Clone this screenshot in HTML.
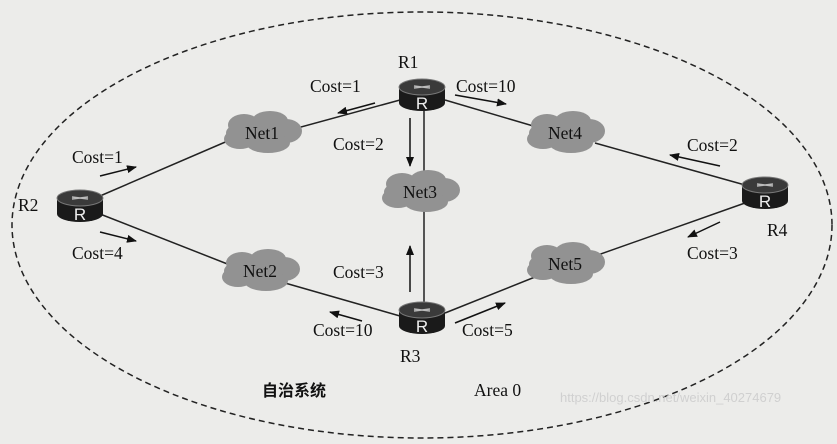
<!DOCTYPE html>
<html><head><meta charset="utf-8"><style>
html,body{margin:0;padding:0;background:#ececea;}
svg{display:block}
text{font-family:"Liberation Serif","Noto Serif CJK SC",serif;font-size:17.5px;fill:#111}
</style></head><body>
<svg width="837" height="444" viewBox="0 0 837 444" xmlns="http://www.w3.org/2000/svg">
<defs>
<marker id="a" markerWidth="10" markerHeight="8" refX="9" refY="4" orient="auto" markerUnits="userSpaceOnUse"><path d="M0,0 L10,4 L0,8 Z" fill="#111"/></marker>
<g id="cloud"><g fill="#929292">
<ellipse cx="0" cy="0" rx="36" ry="14"/><ellipse cx="-18" cy="-8" rx="16" ry="11"/><ellipse cx="8" cy="-12" rx="18" ry="10"/><ellipse cx="24" cy="-2" rx="16" ry="12"/><ellipse cx="-22" cy="6" rx="16" ry="10"/><ellipse cx="6" cy="10" rx="22" ry="10"/></g></g>
<g id="router">
<path d="M-23,-8 L-23,8 A23,8 0 0 0 23,8 L23,-8 Z" fill="#1a1a1a"/>
<ellipse cx="0" cy="-8" rx="23" ry="8" fill="#3a3a3a" stroke="#777" stroke-width="1"/>
<path d="M-8,-9 L8,-7 M-8,-7 L8,-9" stroke="#bbb" stroke-width="1.5"/>
<text x="0" y="14" text-anchor="middle" style="fill:#eee;font-family:'Liberation Sans',sans-serif;font-size:17px">R</text>
</g>
</defs>
<ellipse cx="422" cy="225" rx="410" ry="213" fill="none" stroke="#222" stroke-width="1.5" stroke-dasharray="6,4"/>
<g stroke="#222" stroke-width="1.5" fill="none">
<line x1="400" y1="100" x2="290" y2="130"/>
<line x1="445" y1="100" x2="540" y2="128"/>
<line x1="424" y1="110" x2="424" y2="178"/>
<line x1="100" y1="196" x2="230" y2="140"/>
<line x1="100" y1="214" x2="230" y2="265"/>
<line x1="285" y1="283" x2="400" y2="316"/>
<line x1="445" y1="313" x2="540" y2="275"/>
<line x1="424" y1="302" x2="424" y2="205"/>
<line x1="595" y1="143" x2="745" y2="185"/>
<line x1="595" y1="256" x2="745" y2="203"/>
</g>
<g stroke="#111" stroke-width="1.5" marker-end="url(#a)">
<line x1="375" y1="103" x2="338" y2="113"/>
<line x1="455" y1="95" x2="506" y2="104"/>
<line x1="410" y1="118" x2="410" y2="166"/>
<line x1="100" y1="176" x2="136" y2="167"/>
<line x1="100" y1="232" x2="136" y2="241"/>
<line x1="410" y1="292" x2="410" y2="246"/>
<line x1="362" y1="321" x2="330" y2="312"/>
<line x1="455" y1="323" x2="505" y2="303"/>
<line x1="720" y1="166" x2="670" y2="155"/>
<line x1="720" y1="222" x2="688" y2="237"/>
</g>
<use href="#cloud" x="262" y="133"/><use href="#cloud" x="565" y="133"/>
<use href="#cloud" x="420" y="192"/><use href="#cloud" x="260" y="271"/>
<use href="#cloud" x="565" y="264"/>
<text x="262" y="139" text-anchor="middle">Net1</text>
<text x="565" y="139" text-anchor="middle">Net4</text>
<text x="420" y="198" text-anchor="middle">Net3</text>
<text x="260" y="277" text-anchor="middle">Net2</text>
<text x="565" y="270" text-anchor="middle">Net5</text>
<use href="#router" x="422" y="95"/><use href="#router" x="80" y="206"/>
<use href="#router" x="422" y="318"/><use href="#router" x="765" y="193"/>
<text x="398" y="68">R1</text><text x="18" y="211">R2</text>
<text x="400" y="362">R3</text><text x="767" y="236">R4</text>
<text x="310" y="92">Cost=1</text><text x="456" y="92">Cost=10</text>
<text x="333" y="150">Cost=2</text><text x="72" y="163">Cost=1</text>
<text x="72" y="259">Cost=4</text><text x="333" y="278">Cost=3</text>
<text x="313" y="336">Cost=10</text><text x="462" y="336">Cost=5</text>
<text x="687" y="151">Cost=2</text><text x="687" y="259">Cost=3</text>
<text x="262" y="396" style="font-family:'Noto Sans CJK SC',sans-serif;font-weight:bold;font-size:16px">自治系统</text>
<text x="474" y="396">Area 0</text>
<text x="560" y="402" style="font-family:'Liberation Sans',sans-serif;font-size:13px;fill:#d0d0d0">https://blog.csdn.net/weixin_40274679</text>
</svg>
</body></html>
